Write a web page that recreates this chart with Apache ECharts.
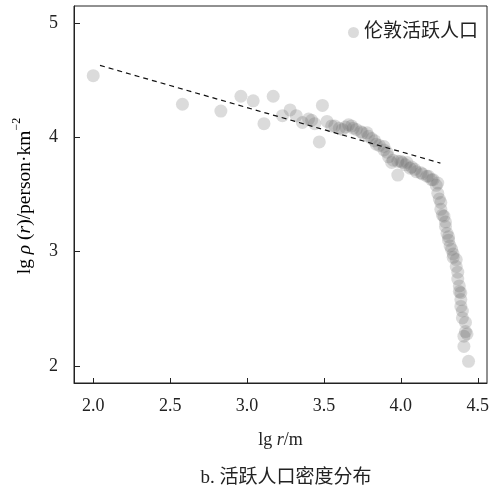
<!DOCTYPE html>
<html>
<head>
<meta charset="utf-8">
<script src="https://cdn.jsdelivr.net/npm/echarts@6/dist/echarts.min.js"></script>
<style>
  html, body { margin: 0; padding: 0; background: #fff; }
  #main { width: 496px; height: 488px; }
</style>
</head>
<body>
<div id="main"></div>
<script>
// 伦敦活跃人口: lg r (x) 与 lg rho (y)
const lgR = [
  2.00, 2.58, 2.83, 2.96, 3.04, 3.11, 3.17, 3.23, 3.28, 3.32, 3.36, 3.40, 3.42, 3.44, 3.47, 3.49,
  3.52, 3.55, 3.57, 3.60, 3.62, 3.64, 3.66, 3.68, 3.69, 3.71, 3.74, 3.75, 3.78, 3.79, 3.81, 3.83,
  3.84, 3.86, 3.89, 3.89, 3.91, 3.92, 3.94, 3.95, 3.98, 3.98, 4.00, 4.01, 4.03, 4.04, 4.06, 4.07,
  4.09, 4.10, 4.13, 4.14, 4.17, 4.18, 4.20, 4.21, 4.23, 4.24, 4.24, 4.25, 4.26, 4.26, 4.27, 4.28,
  4.29, 4.29, 4.30, 4.31, 4.31, 4.32, 4.33, 4.34, 4.34, 4.36, 4.36, 4.37, 4.37, 4.38, 4.38, 4.39,
  4.39, 4.39, 4.40, 4.40, 4.41, 4.41, 4.42, 4.42, 4.43, 4.44
];
const lgRho = [
  4.54, 4.29, 4.23, 4.36, 4.32, 4.12, 4.36, 4.19, 4.24, 4.19, 4.13, 4.16, 4.15, 4.12, 3.96, 4.28,
  4.14, 4.10, 4.10, 4.08, 4.07, 4.09, 4.11, 4.10, 4.08, 4.07, 4.05, 4.04, 4.04, 4.01, 3.99, 3.97,
  3.94, 3.93, 3.92, 3.89, 3.87, 3.83, 3.78, 3.80, 3.67, 3.79, 3.79, 3.78, 3.76, 3.78, 3.73, 3.74,
  3.72, 3.70, 3.69, 3.68, 3.66, 3.66, 3.63, 3.63, 3.58, 3.60, 3.51, 3.46, 3.43, 3.37, 3.32, 3.31,
  3.26, 3.22, 3.16, 3.10, 3.13, 3.05, 3.02, 2.98, 2.95, 2.93, 2.87, 2.82, 2.76, 2.70, 2.65, 2.64,
  2.58, 2.52, 2.48, 2.42, 2.26, 2.17, 2.38, 2.30, 2.28, 2.04
];
// 拟合虚线的两个端点
const fitX = [2.044, 4.257];
const fitY = [4.63, 3.775];

const xTicks = [2.0, 2.5, 3.0, 3.5, 4.0, 4.5];
const yTicks = [2, 3, 4, 5];

const seriesName = '伦敦活跃人口';
const caption = 'b. 活跃人口密度分布';

const serif = "'Liberation Serif', 'Noto Sans CJK SC', serif";
const ink = '#222';

const points = lgR.map((x, i) => [x, lgRho[i]]);
const fitLine = fitX.map((x, i) => [x, fitY[i]]);

const chart = echarts.init(document.getElementById('main'));

const option = {
  animation: false,
  backgroundColor: '#fff',
  grid: {
    left: 74, right: 9, top: 6, bottom: 105,
    show: true, borderColor: ink, borderWidth: 1
  },
  title: {
    text: caption,
    left: 281,
    textAlign: 'center',
    top: 464,
    textStyle: { fontFamily: serif, fontSize: 19, fontWeight: 'normal', color: ink }
  },
  legend: {
    data: [{ name: seriesName, icon: 'circle' }],
    right: 13,
    top: 18,
    itemWidth: 11,
    itemHeight: 11,
    itemGap: 4,
    textStyle: { fontFamily: serif, fontSize: 19, color: ink }
  },
  xAxis: {
    type: 'value',
    min: 1.875,
    max: 4.56,
    name: '{n|lg }{i|r}{n|/m}',
    nameLocation: 'middle',
    nameGap: 48,
    nameTextStyle: {
      rich: {
        n: { fontFamily: serif, fontSize: 18, color: ink },
        i: { fontFamily: serif, fontSize: 18, fontStyle: 'italic', color: ink }
      }
    },
    splitLine: { show: false },
    axisLine: { lineStyle: { color: ink, width: 1 } },
    axisTick: { inside: true, length: 5, customValues: xTicks, lineStyle: { color: ink } },
    axisLabel: {
      customValues: xTicks,
      margin: 14,
      fontFamily: serif,
      fontSize: 18,
      color: ink,
      formatter: v => v.toFixed(1)
    }
  },
  yAxis: {
    type: 'value',
    min: 1.85,
    max: 5.15,
    splitLine: { show: false },
    axisLine: { show: true, lineStyle: { color: ink, width: 1 } },
    axisTick: { show: true, inside: true, length: 6, customValues: yTicks, lineStyle: { color: ink } },
    axisLabel: {
      customValues: yTicks,
      margin: 16,
      fontFamily: serif,
      fontSize: 18,
      color: ink
    }
  },
  graphic: [{
    type: 'text',
    x: 23,
    y: 196,
    rotation: Math.PI / 2,
    style: {
      text: '{n|lg }{i|ρ}{n| (}{i|r}{n|)/person·km}{s|−2}',
      align: 'center',
      verticalAlign: 'middle',
      rich: {
        n: { fontFamily: serif, fontSize: 19.5, color: ink, lineHeight: 24, verticalAlign: 'bottom' },
        i: { fontFamily: serif, fontSize: 19.5, fontStyle: 'italic', color: ink, lineHeight: 24, verticalAlign: 'bottom' },
        s: { fontFamily: serif, fontSize: 12, color: ink, lineHeight: 24, verticalAlign: 'top' }
      }
    }
  }],
  series: [
    {
      name: seriesName,
      type: 'scatter',
      data: points,
      symbol: 'circle',
      symbolSize: 13,
      itemStyle: { color: 'rgba(105,105,105,0.3)' },
      z: 2
    },
    {
      name: 'fit',
      type: 'line',
      data: fitLine,
      showSymbol: false,
      symbol: 'none',
      lineStyle: { color: '#111', width: 1.2, type: [5, 4] },
      z: 3,
      silent: true
    }
  ]
};

if (option && typeof option === 'object') {
  chart.setOption(option, true);
}
</script>
</body>
</html>
